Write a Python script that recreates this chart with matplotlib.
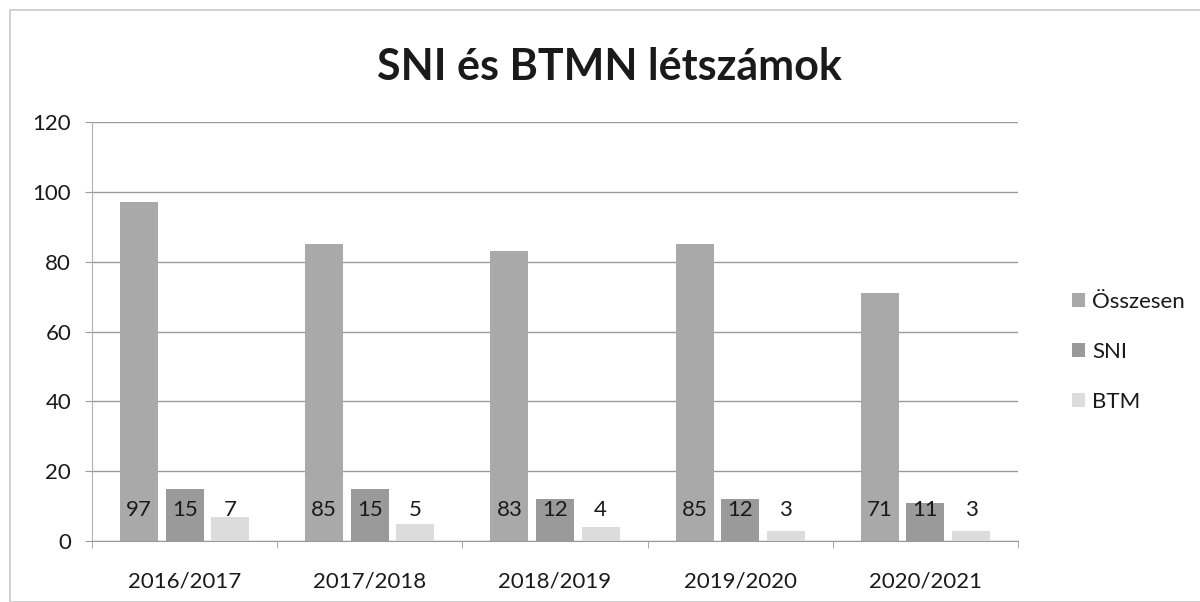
import numpy as np
import matplotlib
matplotlib.use('Agg')
from matplotlib import pyplot as plt
from matplotlib.patches import Rectangle

# adatok
categories = ['2016/2017', '2017/2018', '2018/2019', '2019/2020', '2020/2021']
osszesen = [97, 85, 83, 85, 71]
sni = [15, 15, 12, 12, 11]
btm = [7, 5, 4, 3, 3]
series_names = ['Összesen', 'SNI', 'BTM']
colors = ['#a9a9a9', '#9a9a9a', '#dcdcdc']

plt.rcParams['font.family'] = ['Lato', 'DejaVu Sans']

fig = plt.figure(figsize=(12, 6.02), dpi=100)
ax = fig.add_axes([92 / 1200, 1 - 541 / 602, (1018 - 92) / 1200, (541 - 122) / 602])

# keret a diagram körül
fig.patches.append(Rectangle((10 / 1200, 0), 1.2, 1 - 10 / 602, transform=fig.transFigure,
                             fill=False, edgecolor='#c8c8c8', lw=1.2))

x = np.arange(len(categories))
width = 0.205
step = 0.246
for i, (vals, name) in enumerate(zip([osszesen, sni, btm], series_names)):
    pos = x + (i - 1) * step
    ax.bar(pos, vals, width, color=colors[i], label=name, zorder=3)
    for p, v in zip(pos, vals):
        ax.text(p, 8.9, str(v), ha='center', va='center', fontsize=16, color='#1a1a1a', zorder=4)

ax.set_xlim(-0.5, len(categories) - 0.5)
ax.set_ylim(0, 120)
ax.set_yticks(range(0, 121, 20))
ax.grid(axis='y', color='#9a9a9a', lw=1, zorder=0)
ax.set_xticks(x)
ax.set_xticklabels(categories, fontsize=16, color='#1a1a1a')
ax.set_xticks(np.arange(-0.5, len(categories), 1), minor=True)
ax.tick_params(axis='x', which='major', length=0, pad=22)
ax.tick_params(axis='x', which='minor', length=5, color='#9a9a9a')
ax.tick_params(axis='y', labelsize=16, labelcolor='#1a1a1a', length=5, color='#9a9a9a', pad=10)
for s in ['top', 'right']:
    ax.spines[s].set_visible(False)
ax.spines['left'].set_color('#b0b0b0')
ax.spines['bottom'].set_color('#9a9a9a')

fig.text(0.508, 1 - 67 / 602, 'SNI és BTMN létszámok', ha='center', va='center',
         fontsize=31, fontweight='bold', color='#1a1a1a')

fig.legend(loc='center left', bbox_to_anchor=(1052 / 1200, 1 - 352 / 602), frameon=False,
           fontsize=16, handlelength=0.6, handleheight=0.6, labelspacing=1.35, handletextpad=0.3,
           labelcolor='#1a1a1a')

plt.savefig('out.png', dpi=100)
